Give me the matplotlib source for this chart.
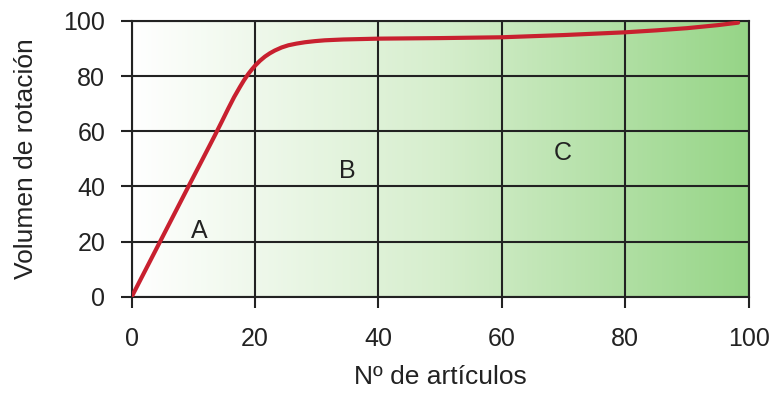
import matplotlib
matplotlib.use("Agg")
import matplotlib.pyplot as plt
import numpy as np
from matplotlib.colors import LinearSegmentedColormap

# curve (Nº de artículos vs volumen de rotación)
articulos = [0, 4.6, 9.2, 11.4, 13.5, 14.6, 15.66, 16.6, 17.55, 18.2, 18.9,
             19.5, 20.0, 20.8, 21.6, 22.4, 23.2, 24.3, 25.4, 26.7, 28.1, 29.7,
             31.3, 34.3, 40, 50, 60, 65, 70, 75, 80, 85, 90, 95, 98.3]
volumen = [0, 20, 40, 49.5, 58.6, 63.5, 68.3, 72.4, 76.1, 78.5, 80.8,
           82.5, 83.8, 85.6, 87.1, 88.3, 89.3, 90.4, 91.2, 91.8, 92.3, 92.7,
           93.0, 93.3, 93.6, 93.8, 94.1, 94.5, 94.9, 95.4, 95.9,
           96.6, 97.4, 98.5, 99.4]

zonas = ["A", "B", "C"]
zona_x = [10.9, 34.9, 69.9]
zona_y = [24, 45.7, 52.2]

ticks = [0, 20, 40, 60, 80, 100]

plt.rcParams['font.family'] = ['Liberation Sans', 'DejaVu Sans']

fig = plt.figure(figsize=(7.71, 4.0), dpi=100)
ax = fig.add_axes([0.1708, 0.258, 0.8002, 0.6895])

# background gradient white -> green
cmap = LinearSegmentedColormap.from_list("verde", ["#ffffff", "#d6eecd", "#96d587"])
grad = np.linspace(0, 1, 256).reshape(1, -1)
ax.imshow(grad, extent=[0, 100, 0, 100], aspect="auto", cmap=cmap,
          origin="lower", zorder=0)

ax.plot(articulos, volumen, color="#c8202f", lw=3.0, solid_capstyle="round",
        solid_joinstyle="round", zorder=3)

for z, zx, zy in zip(zonas, zona_x, zona_y):
    ax.text(zx, zy, z, fontsize=18, color="#222222", ha="center", va="center", zorder=4)

ax.set_xlim(0, 100)
ax.set_ylim(0, 100)
ax.set_xticks(ticks)
ax.set_yticks(ticks)
ax.grid(True, color="#222222", lw=1.5, zorder=2)
ax.set_axisbelow(False)
for s in ax.spines.values():
    s.set_color("#222222")
    s.set_linewidth(1.5)
    s.set_zorder(2)
ax.tick_params(length=8, width=1.5, color="#222222", labelsize=18,
               labelcolor="#222222")
ax.tick_params(axis="y", pad=11)
ax.tick_params(axis="x", pad=14)

ax.set_xlabel("Nº de artículos", fontsize=19, color="#222222", labelpad=10)
ax.set_ylabel("Volumen de rotación", fontsize=19, color="#222222", labelpad=18)

fig.savefig("out.png", dpi=100)
